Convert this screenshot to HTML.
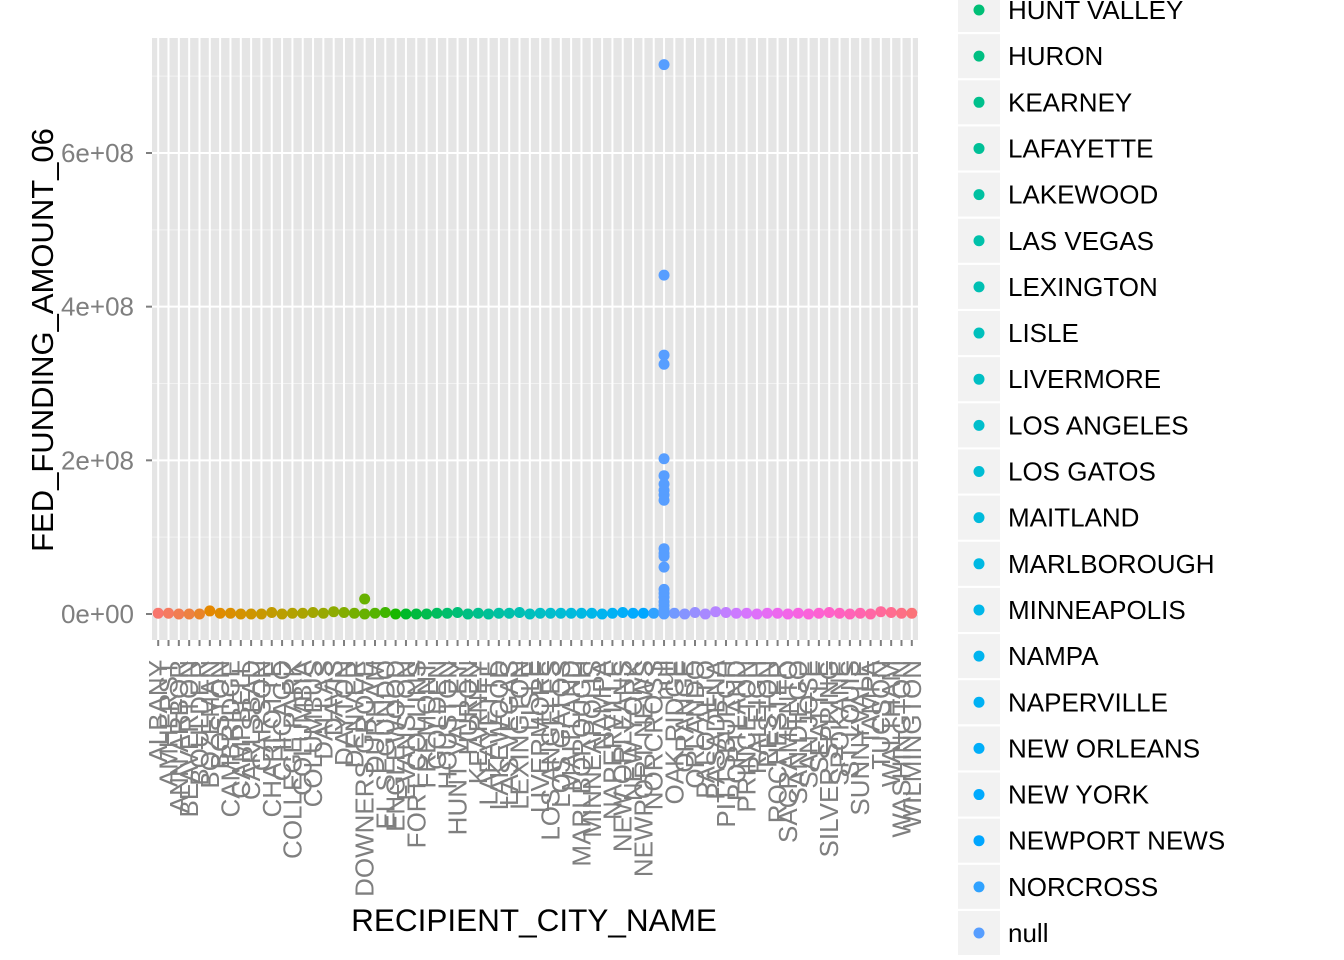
<!DOCTYPE html>
<html><head><meta charset="utf-8"><style>
html,body{margin:0;padding:0;background:#fff;}
svg{display:block;font-family:"Liberation Sans",Arial,sans-serif;}
</style></head><body>
<svg id="chart" width="1344" height="960"></svg>
<script>
const categories=["ALBANY","AMHERST","ANN ARBOR","BEAVERTON","BOULDER","BOZEMAN","BOSTON","CAMBRIDGE","CAMPBELL","CARLSBAD","CARSON","CHARLOTTE","CHICAGO","COLLEGE PARK","COLUMBIA","COLUMBUS","DALLAS","DAVIS","DAYTON","DENVER","DOWNERS GROVE","DURHAM","EL SEGUNDO","ENGLEWOOD","EVANSTON","FORT COLLINS","FREMONT","GOLDEN","HOUSTON","HUNT VALLEY","HURON","KEARNEY","LAFAYETTE","LAKEWOOD","LAS VEGAS","LEXINGTON","LISLE","LIVERMORE","LOS ANGELES","LOS GATOS","MAITLAND","MARLBOROUGH","MINNEAPOLIS","NAMPA","NAPERVILLE","NEW ORLEANS","NEW YORK","NEWPORT NEWS","NORCROSS","null","OAK RIDGE","ORANGE","ORLANDO","PALO ALTO","PASADENA","PITTSBURGH","PORTLAND","PRINCETON","RALEIGH","RESTON","ROCHESTER","SACRAMENTO","SAN DIEGO","SAN JOSE","SEATTLE","SILVER SPRING","SPOKANE","ST LOUIS","SUNNYVALE","TAMPA","TUCSON","WALTHAM","WASHINGTON","WILMINGTON"];
const baseValues=[1e6,1e6,0,0,0,4e6,1e6,1e6,0,0,0,2e6,0,1e6,1e6,2e6,1e6,3e6,2e6,1e6,0,1e6,2e6,0,0,0,0,1e6,1e6,2e6,0,1e6,0,1e6,1e6,2e6,0,1e6,1e6,1e6,1e6,1e6,1e6,0,1e6,2e6,1e6,1e6,1e6,0,1e6,0,2e6,0,3e6,2e6,1e6,1e6,0,1e6,1e6,0,1e6,0,1e6,2e6,1e6,0,1e6,0,3e6,2e6,1e6,1e6];
const extraCats=[20,49,49,49,49,49,49,49,49,49,49,49,49,49,49,49,49,49,49,49,49,49];
const extraValues=[1.95e7,7.15e8,4.41e8,3.37e8,3.25e8,2.02e8,1.8e8,1.69e8,1.61e8,1.55e8,1.48e8,8.5e7,7.9e7,7.5e7,6.1e7,3.2e7,2.7e7,2.2e7,1.6e7,1.1e7,6e6,3e6];
const yTicks=[0,2e8,4e8,6e8];
const yTickLabels=["0e+00","2e+08","4e+08","6e+08"];
const legendStart=29, legendEnd=49;

const NS="http://www.w3.org/2000/svg";
const svg=document.getElementById('chart');
function mk(t,a,p){const e=document.createElementNS(NS,t);for(const k in a)e.setAttribute(k,a[k]);(p||svg).appendChild(e);return e;}
const PL=152,PR=918,PT=38,PB=640;
const n=categories.length;
const step=(PR-PL)/(n-1+1.2);
function xS(i){return PL+0.6*step+i*step;}
function yS(v){return 614-v*(614-153)/6e8;}
function hcl(h){const L=65,C=100;const hr=h*Math.PI/180;const u=C*Math.cos(hr),v=C*Math.sin(hr);
 const Y=Math.pow((L+16)/116,3);const un=0.19784,vn=0.46834;const up=u/(13*L)+un,vp=v/(13*L)+vn;
 const X=Y*9*up/(4*vp),Z=Y*(12-3*up-20*vp)/(4*vp);
 let r=3.2404542*X-1.5371385*Y-0.4985314*Z,g=-0.9692660*X+1.8760108*Y+0.0415560*Z,b=0.0556434*X-0.2040259*Y+1.0572252*Z;
 const gm=c=>{c=c<=0.0031308?12.92*c:1.055*Math.pow(c,1/2.4)-0.055;return Math.round(Math.max(0,Math.min(1,c))*255);};
 return `rgb(${gm(r)},${gm(g)},${gm(b)})`;}
function col(i){return hcl(15+360*i/n);}

const bg=mk('rect',{x:PL,y:PT,width:PR-PL,height:PB-PT,fill:'#E5E5E5'});


[1e8,3e8,5e8,7e8].forEach(v=>{const l=mk('line',{x1:PL,x2:PR,y1:yS(v),y2:yS(v),stroke:'#F2F2F2','stroke-width':1});
 
 });
yTicks.forEach(v=>{const l=mk('line',{x1:PL,x2:PR,y1:yS(v),y2:yS(v),stroke:'#fff','stroke-width':2});
 
 });
categories.forEach((c,i)=>{const l=mk('line',{x1:xS(i),x2:xS(i),y1:PT,y2:PB,stroke:'#fff','stroke-width':2});
 
 });
yTicks.forEach((v,k)=>{
 const t=mk('line',{x1:PL-6,x2:PL,y1:yS(v),y2:yS(v),stroke:'#7f7f7f','stroke-width':2});
 
 
 const tx=mk('text',{x:PL-18,y:yS(v)+9,'text-anchor':'end','font-size':26,fill:'#7f7f7f'});tx.textContent=yTickLabels[k];
 
 
});
const yt=mk('text',{x:0,y:0,transform:'translate(53,340) rotate(-90)','text-anchor':'middle','font-size':31,fill:'#000'});yt.textContent='FED_FUNDING_AMOUNT_06';


categories.forEach((c,i)=>{
 const t=mk('line',{x1:xS(i),x2:xS(i),y1:PB,y2:PB+6,stroke:'#7f7f7f','stroke-width':2});
 
 
 const tx=mk('text',{x:0,y:0,transform:`translate(${xS(i)+9},660) rotate(-90)`,'text-anchor':'end','font-size':26,fill:'#7f7f7f'});tx.textContent=c;
 
 
});
const xt=mk('text',{x:534,y:931,'text-anchor':'middle','font-size':31.5,fill:'#000'});xt.textContent='RECIPIENT_CITY_NAME';


baseValues.forEach((v,i)=>{const p=mk('circle',{cx:xS(i),cy:yS(v),r:5.5,fill:col(i)});
 
 });
extraValues.forEach((v,k)=>{const i=extraCats[k];const p=mk('circle',{cx:xS(i),cy:yS(v),r:5.5,fill:col(i)});
 
 });
for(let i=legendStart;i<=legendEnd;i++){
 const y=10+(i-legendStart)*46.15;
 const g=mk('g',{});
 
 
 mk('rect',{x:958,y:y-22,width:42,height:44,fill:'#F2F2F2'},g);
 mk('circle',{cx:979,cy:y,r:5.5,fill:col(i)},g);
 const tx=mk('text',{x:1008,y:y+9,'font-size':26,fill:'#000'},g);tx.textContent=categories[i];
}
</script>
</body></html>
